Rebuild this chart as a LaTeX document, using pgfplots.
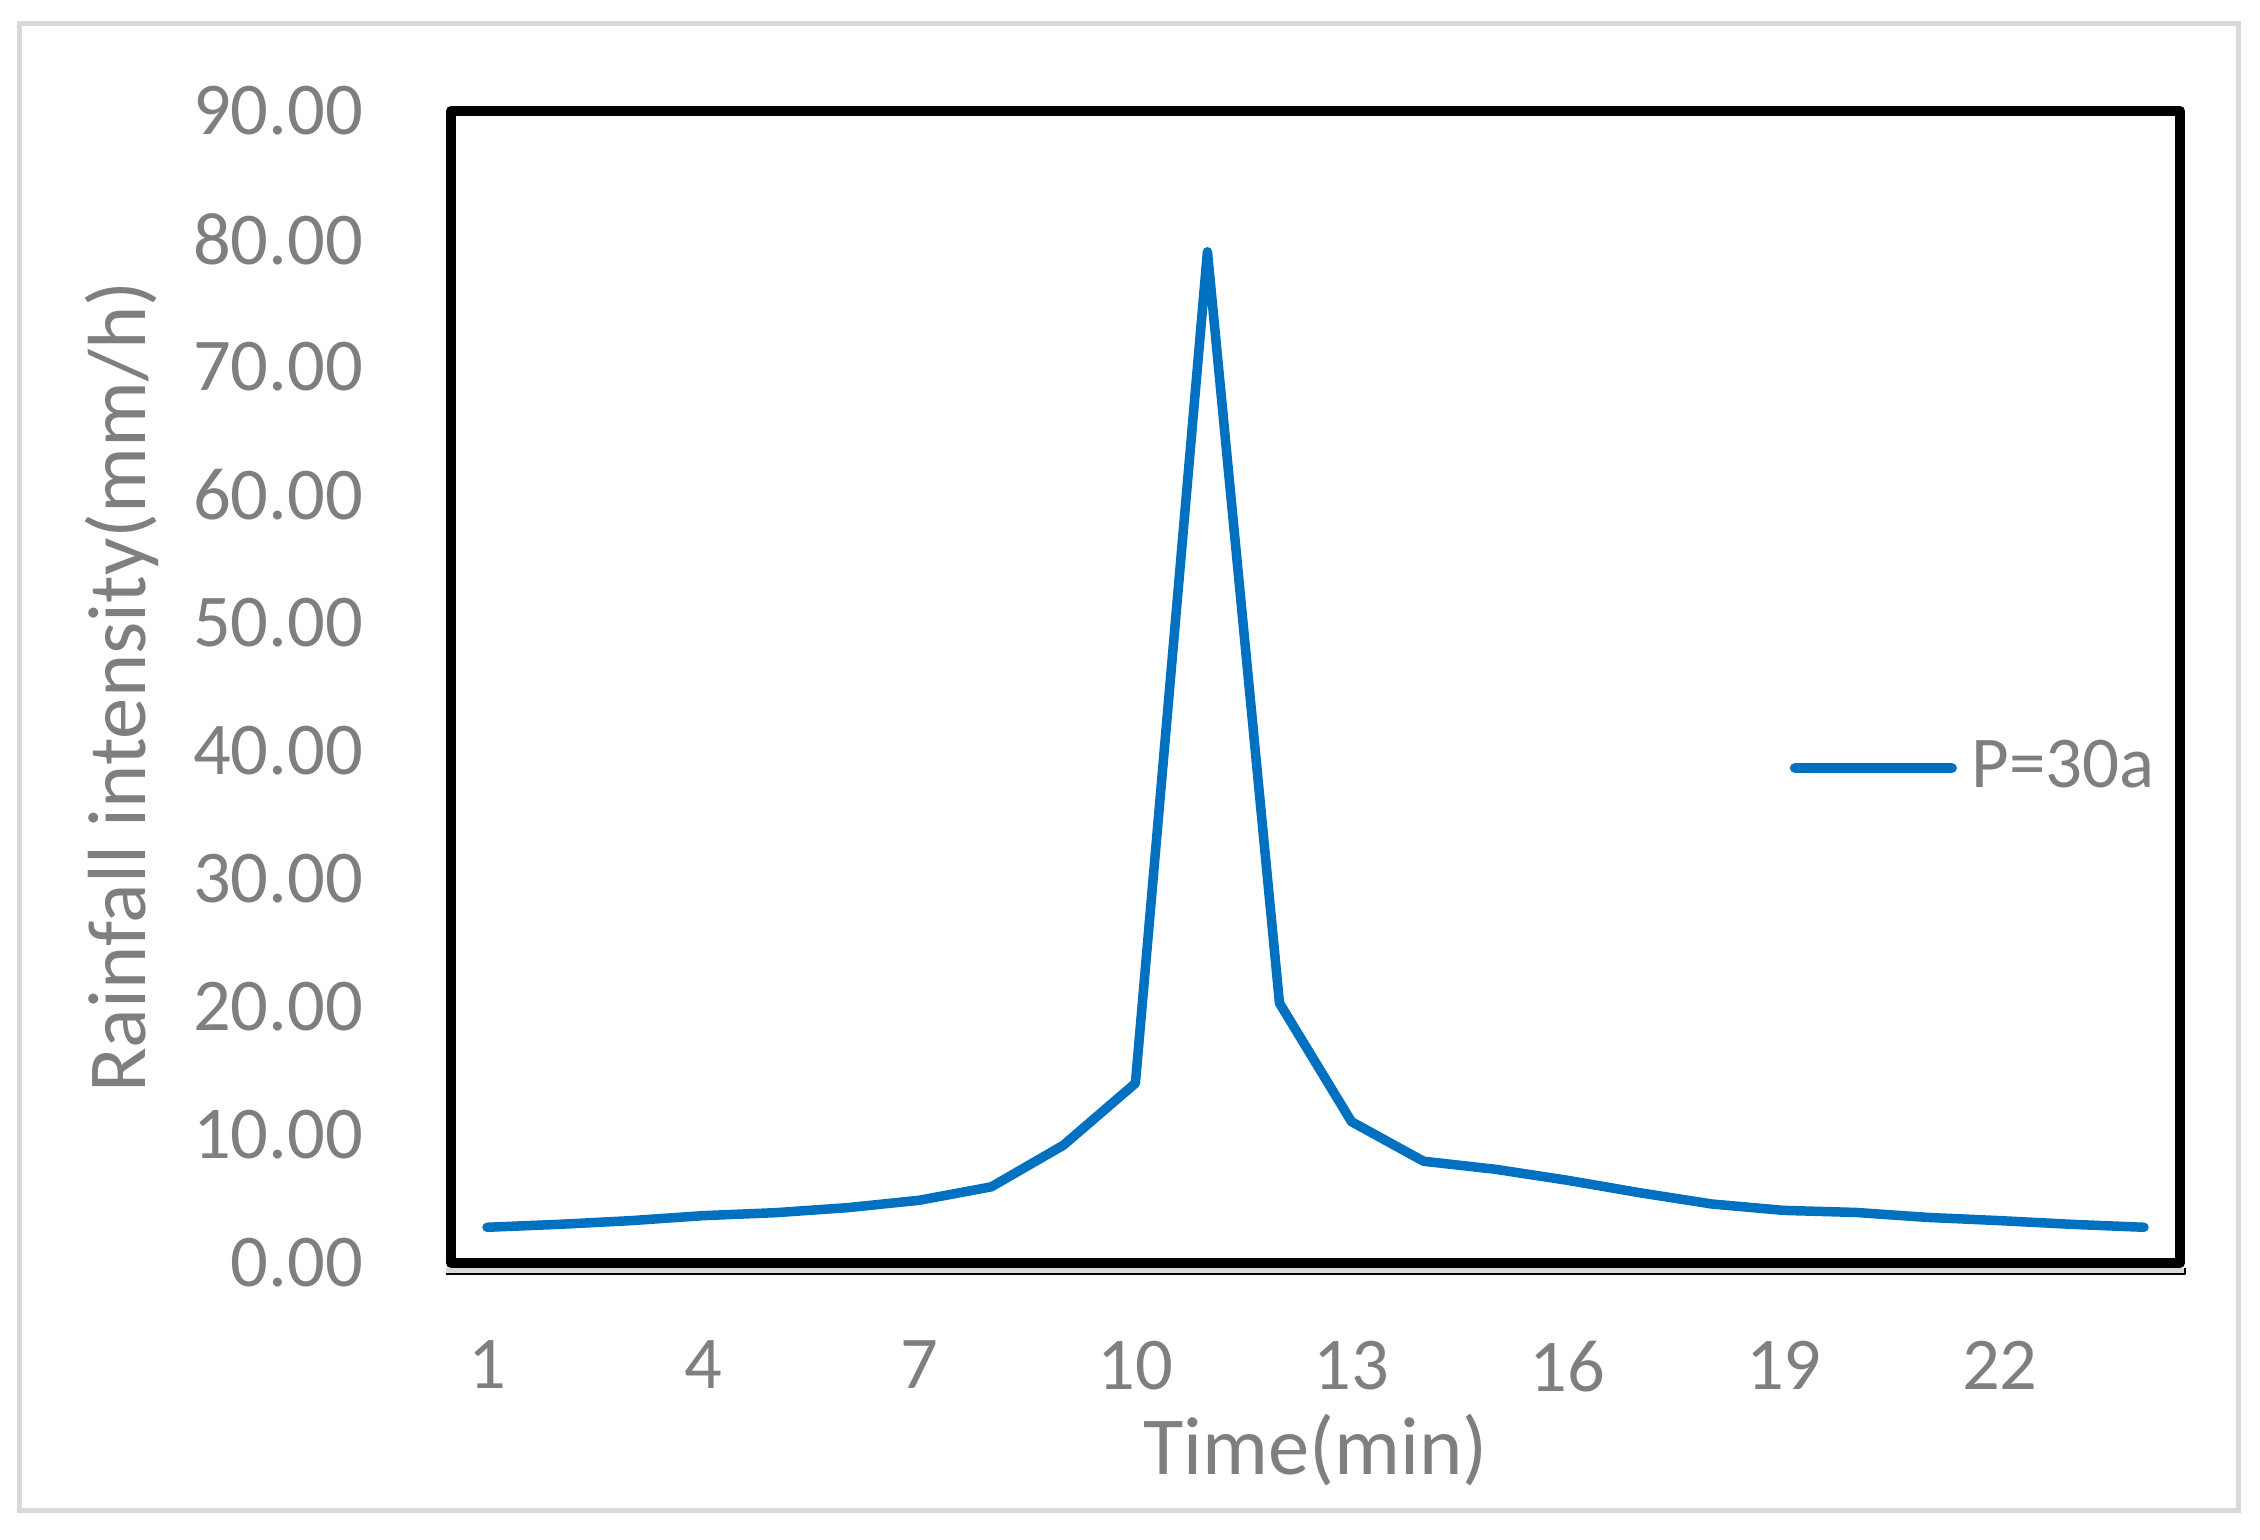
\documentclass[border=0pt]{standalone}
\usepackage{fontspec}
\setmainfont{Carlito}
\usepackage{pgfplots}
\pgfplotsset{compat=1.18}
\definecolor{lblgray}{RGB}{127,127,127}
\definecolor{lineblue}{RGB}{0,112,192}
\definecolor{framegray}{RGB}{217,217,217}
\begin{document}
\begin{tikzpicture}
\useasboundingbox (-90.2pt,-55.2pt) rectangle (361.8pt,252.6pt);
% outer chart border
\draw[framegray, line width=1pt] (-86.2pt,-49.4pt) rectangle (357.4pt,247.8pt);
\begin{axis}[
  scale only axis,
  width=345.8pt, height=230.4pt,
  xmin=0.5, xmax=24.5, ymin=0, ymax=90,
  xtick={1,4,7,10,13,16,19,22},
  xticklabels={1,4,7,10,13,16,19,22},
  ytick={0,10,20,30,40,50,60,70,80,90},
  yticklabels={0.00,10.00,20.00,30.00,40.00,50.00,60.00,70.00,80.00,90.00},
  /pgf/number format/assume math mode=true,
  major tick length=0pt,
  axis line style={black, line width=2pt, line join=round},
  tick label style={text=lblgray, font=\fontsize{14.9}{17}\selectfont, inner sep=0pt},
  yticklabel style={anchor=east, xshift=-17.4pt},
  xticklabel style={anchor=north, yshift=-15.4pt},
  xlabel={Time(min)},
  ylabel={Rainfall intensity(mm/h)},
  label style={text=lblgray, font=\fontsize{16.5}{19}\selectfont, inner sep=0pt},
  xlabel style={at={([yshift=-42.2pt]axis description cs:0.5,0)}, anchor=base},
  ylabel style={at={([xshift=-61pt]axis description cs:0,0.5)}, anchor=base},
  legend style={at={(0.7716,0.4297)}, anchor=west, draw=none, fill=none,
    inner sep=0pt, outer sep=0pt,
    nodes={inner sep=0pt, text=lblgray, font=\fontsize{14.6}{17}\selectfont}},
  legend image code/.code={%
    \draw[#1, line width=2pt, line cap=round] (1pt,0pt) -- (32.4pt,0pt);
    \path (0pt,0pt) (35.4pt,0pt);},
]
\addplot[lineblue, line width=1.9pt, line join=round, line cap=round] coordinates {
(1,2.79) (2,3.02) (3,3.31) (4,3.70) (5,3.93) (6,4.32) (7,4.90) (8,5.95)
(9,9.20) (10,14.04) (11,79.00) (12,20.30) (13,11.04) (14,7.95) (15,7.32) (16,6.46)
(17,5.49) (18,4.61) (19,4.11) (20,3.95) (21,3.56) (22,3.31) (23,3.02) (24,2.79)
};
\addlegendentry{P=30a}
\end{axis}
% grey strip under the plot area
\fill[framegray] (-1pt,-1pt) rectangle (346.8pt,-2.2pt);
\draw[black, line width=0.5pt, line join=round] (-1pt,-2.2pt) -- (346.8pt,-2.2pt) -- (346.8pt,-1pt);
\end{tikzpicture}
\end{document}
